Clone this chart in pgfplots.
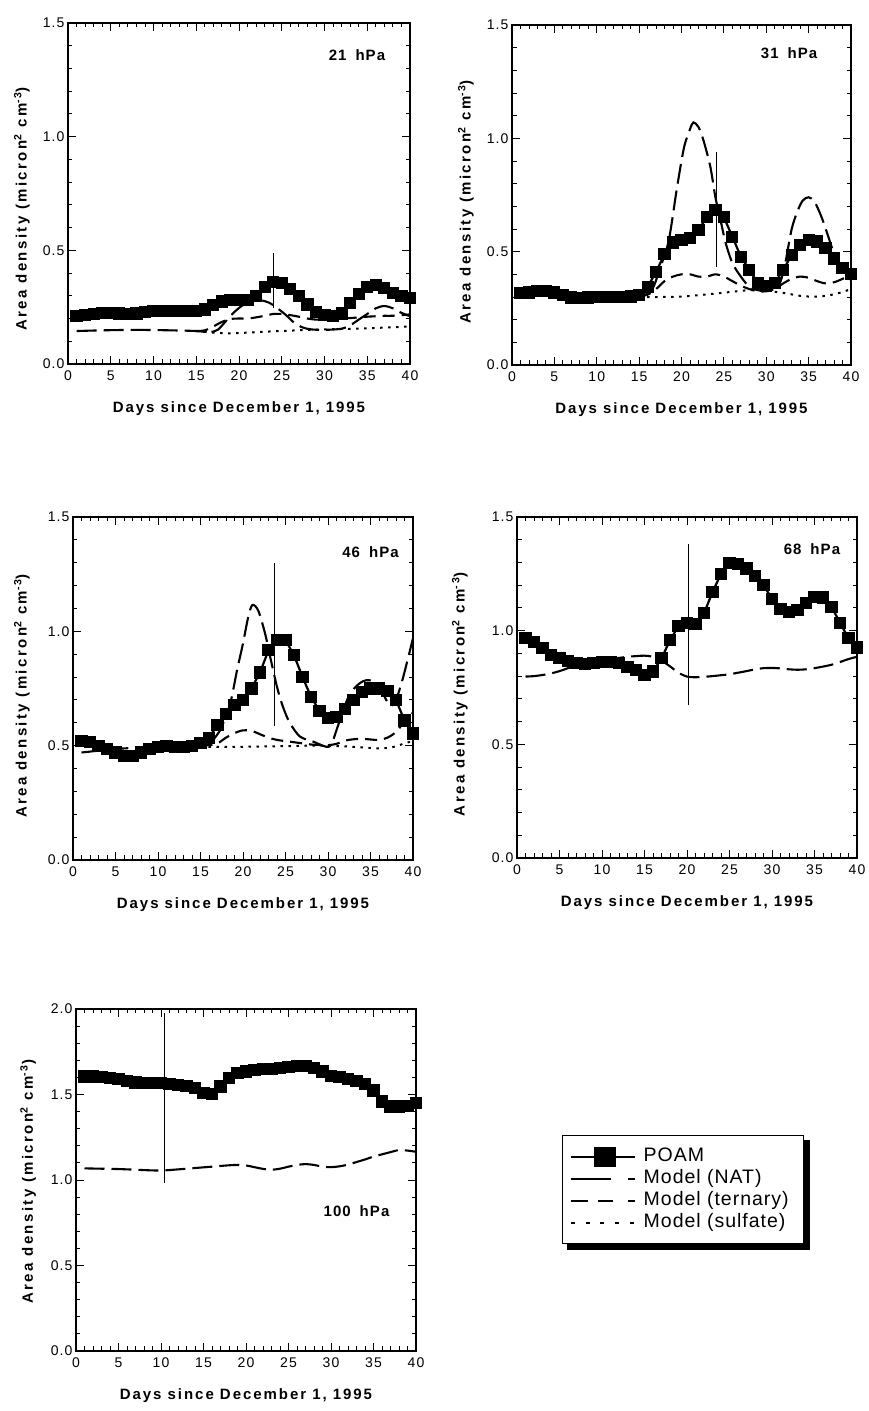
\documentclass[border=0pt]{standalone}
\usepackage{fontspec}
\setmainfont{Liberation Sans}
\newfontfamily\tickfont{Liberation Sans}[LetterSpace=8]
\newfontfamily\xlabfont{Liberation Sans}[LetterSpace=13]
\newfontfamily\ylabfont{Liberation Sans}[LetterSpace=16]
\newfontfamily\hpafont{Liberation Sans}[LetterSpace=7]
\newfontfamily\legfont{Liberation Sans}[LetterSpace=5]
\usepackage{pgfplots}
\pgfplotsset{compat=1.18}

\newcommand\xlab{\xlabfont\bfseries\fontsize{15}{15}\selectfont}
\newcommand\ylab{\ylabfont\bfseries\fontsize{15}{15}\selectfont}
\newcommand\plab{\hpafont\bfseries\fontsize{15}{15}\selectfont}

\pgfplotsset{
  panel/.style={
    scale only axis,
    xmin=0, xmax=40, ymin=0, ymax=1.5,
    xtick={0,5,...,40}, ytick={0,0.5,1.0,1.5},
    minor x tick num=4, minor y tick num=4,
    tick pos=both, xticklabel pos=lower, yticklabel pos=left,
    tick align=inside,
    major tick length=8pt, minor tick length=4.5pt,
    every tick/.style={black, line width=0.9pt},
    axis line style={line width=1.1pt},
    /pgf/number format/assume math mode=true,
    ticklabel style={font=\tickfont\fontsize{14}{14}\selectfont},
    xticklabel style={yshift=-3pt},
    yticklabel style={/pgf/number format/.cd, fixed, fixed zerofill, precision=1},
    xlabel={Days since December 1, 1995},
    ylabel={Area density (micron\textsuperscript{2} cm\textsuperscript{-3})},
    every axis x label/.style={at={(axis description cs:0.5,-0.13)}, anchor=center, font=\xlab},
  },
  ylab/.style n args={2}{every axis y label/.style={at={(axis description cs:#1,#2)}, rotate=90, anchor=center, font=\ylab}},
  poam/.style={black, line width=2.2pt, mark=square*, mark size=5pt, mark options={solid}},
  nat/.style={black, line width=2.1pt, dash pattern=on 20pt off 7pt, smooth},
  tern/.style={black, line width=2.1pt, dash pattern=on 12pt off 7pt, smooth},
  sulf/.style={black, line width=2pt, dash pattern=on 2.5pt off 5.5pt, smooth},
  vline/.style={black, line width=0.8pt, forget plot},
}

\begin{document}
\begin{tikzpicture}[x=1pt,y=1pt]
\useasboundingbox (0,0) rectangle (868,1411);

% ---------------- 21 hPa ----------------
\begin{axis}[panel, ylab={-0.135}{0.455}, at={(68pt,1047pt)}, anchor=south west, width=342pt, height=341pt]
\addplot[poam] coordinates {
(1,0.210)(2,0.215)(3,0.220)(4,0.225)(5,0.225)(6,0.222)(7,0.220)(8,0.222)(9,0.228)(10,0.232)
(11,0.232)(12,0.232)(13,0.232)(14,0.232)(15,0.232)(16,0.240)(17,0.258)(18,0.275)(19,0.280)(20,0.280)
(21,0.282)(22,0.300)(23,0.338)(24,0.360)(25,0.358)(26,0.330)(27,0.300)(28,0.262)(29,0.228)(30,0.215)
(31,0.210)(32,0.222)(33,0.268)(34,0.308)(35,0.338)(36,0.348)(37,0.335)(38,0.312)(39,0.300)(40,0.290)};
\addplot[nat] coordinates {
(1,0.145)(4,0.148)(8,0.150)(12,0.148)(15,0.145)(16.5,0.140)(17.5,0.150)(18.5,0.190)(19.5,0.230)
(20.5,0.260)(21.5,0.275)(22.5,0.280)(23.5,0.270)(24.5,0.245)(25.5,0.215)(26.5,0.180)(27.5,0.160)
(28.5,0.152)(30,0.150)(32,0.155)(33,0.170)(34,0.195)(35,0.220)(36,0.245)(37,0.255)(38,0.245)
(39,0.225)(40,0.210)};
\addplot[tern] coordinates {
(15,0.145)(16,0.148)(17,0.165)(18,0.185)(19,0.198)(20,0.200)(21,0.200)(22,0.205)(23,0.212)(24,0.220)
(25,0.220)(26,0.215)(27,0.208)(28,0.200)(29,0.195)(30,0.195)(31,0.197)(32,0.200)(33,0.202)(34,0.205)
(35,0.208)(36,0.210)(37,0.212)(38,0.212)(39,0.215)(40,0.218)};
\addplot[sulf] coordinates {
(15,0.145)(17,0.138)(19,0.135)(21,0.138)(23,0.142)(25,0.145)(28,0.150)(31,0.153)(34,0.156)(37,0.160)(40,0.165)};
\addplot[vline] coordinates {(24.0,0.245)(24.0,0.49)};
\node[font=\plab] at (axis cs:33.8,1.36) {21\hspace{9pt}hPa};
\end{axis}

% ---------------- 31 hPa ----------------
\begin{axis}[panel, ylab={-0.136}{0.48}, at={(512pt,1046pt)}, anchor=south west, width=339pt, height=340pt]
\addplot[poam] coordinates {
(1,0.316)(2,0.320)(3,0.328)(4,0.328)(5,0.320)(6,0.308)(7,0.298)(8,0.295)(9,0.298)(10,0.300)
(11,0.300)(12,0.300)(13,0.300)(14,0.302)(15,0.310)(16,0.345)(17,0.410)(18,0.490)(19,0.540)(20,0.552)
(21,0.562)(22,0.595)(23,0.652)(24,0.685)(25,0.652)(26,0.566)(27,0.478)(28,0.420)(29,0.362)(30,0.350)
(31,0.360)(32,0.420)(33,0.485)(34,0.530)(35,0.550)(36,0.545)(37,0.515)(38,0.470)(39,0.427)(40,0.400)};
\addplot[nat] coordinates {
(1,0.305)(5,0.305)(8,0.300)(12,0.300)(15,0.305)(16,0.315)(16.7,0.345)(17.5,0.430)(18.5,0.550)
(19.5,0.790)(20.3,0.960)(21,1.040)(21.4,1.070)(22,1.050)(22.6,0.990)(23.4,0.875)(24,0.740)
(24.6,0.640)(25.2,0.540)(26,0.450)(27,0.390)(28,0.345)(29,0.330)(30,0.328)(31,0.335)(31.7,0.370)
(32.3,0.460)(33,0.600)(33.7,0.680)(34.3,0.725)(35,0.740)(35.7,0.720)(36.5,0.655)(37.2,0.580)
(37.9,0.500)(38.5,0.440)(39.2,0.400)(40,0.375)};
\addplot[tern] coordinates {
(15,0.305)(16,0.310)(17,0.335)(18,0.370)(19,0.390)(20,0.400)(21,0.400)(22,0.390)(23,0.390)(24,0.400)
(25,0.390)(26,0.370)(27,0.350)(28,0.335)(29,0.325)(30,0.325)(31,0.335)(32,0.360)(33,0.380)(34,0.390)
(35,0.385)(36,0.370)(37,0.360)(38,0.365)(39,0.380)(40,0.400)};
\addplot[sulf] coordinates {
(15,0.300)(18,0.300)(20,0.302)(22,0.308)(24,0.315)(26,0.323)(28,0.330)(30,0.327)(32,0.318)(34,0.305)
(35,0.302)(36,0.302)(37,0.305)(38,0.312)(39,0.322)(40,0.335)};
\addplot[vline] coordinates {(24.1,0.434)(24.1,0.94)};
\node[font=\plab] at (axis cs:32.7,1.375) {31\hspace{9pt}hPa};
\end{axis}

% ---------------- 46 hPa ----------------
\begin{axis}[panel, ylab={-0.15}{0.478}, at={(73pt,551pt)}, anchor=south west, width=340pt, height=343pt]
\addplot[poam] coordinates {
(1,0.520)(2,0.515)(3,0.500)(4,0.485)(5,0.470)(6,0.455)(7,0.455)(8,0.470)(9,0.485)(10,0.495)
(11,0.500)(12,0.495)(13,0.495)(14,0.500)(15,0.510)(16,0.535)(17,0.590)(18,0.640)(19,0.677)(20,0.700)
(21,0.750)(22,0.820)(23,0.917)(24,0.961)(25,0.961)(26,0.896)(27,0.800)(28,0.714)(29,0.652)(30,0.622)
(31,0.625)(32,0.660)(33,0.700)(34,0.735)(35,0.750)(36,0.750)(37,0.740)(38,0.700)(39,0.610)(40,0.553)};
\addplot[nat] coordinates {
(1,0.470)(3,0.478)(5,0.485)(7,0.490)(9,0.490)(11,0.495)(13,0.495)(15,0.500)(16,0.505)(17,0.550)
(17.5,0.583)(18.5,0.685)(19.3,0.830)(20,0.947)(20.6,1.060)(21.1,1.115)(21.8,1.090)(22.6,0.990)
(23.2,0.888)(24,0.757)(24.7,0.670)(25.5,0.600)(26.7,0.540)(28.3,0.517)(29.8,0.495)(30.4,0.505)
(31,0.568)(31.8,0.655)(32.6,0.728)(33.7,0.772)(34.5,0.786)(35.4,0.780)(36.3,0.740)(37,0.690)
(37.5,0.675)(38,0.700)(38.7,0.780)(39.4,0.880)(40,0.970)};
\addplot[tern] coordinates {
(15,0.500)(16,0.502)(17,0.510)(18,0.535)(19,0.555)(20,0.567)(21,0.565)(22,0.550)(23,0.535)(24,0.525)
(25,0.520)(26,0.515)(27,0.510)(28,0.505)(29,0.503)(30,0.502)(31,0.508)(32,0.522)(33,0.528)(34,0.530)
(35,0.527)(36,0.525)(37,0.535)(38,0.560)(39,0.605)(40,0.645)};
\addplot[sulf] coordinates {
(15,0.495)(20,0.495)(25,0.498)(28,0.500)(30,0.500)(33,0.495)(35,0.490)(36,0.488)(37,0.490)(38,0.497)
(39,0.510)(40,0.520)};
\addplot[vline] coordinates {(23.7,0.585)(23.7,1.30)};
\node[font=\plab] at (axis cs:35,1.345) {46\hspace{9pt}hPa};
\end{axis}

% ---------------- 68 hPa ----------------
\begin{axis}[panel, ylab={-0.168}{0.48}, at={(517pt,553pt)}, anchor=south west, width=340pt, height=341pt]
\addplot[poam] coordinates {
(1,0.969)(2,0.951)(3,0.922)(4,0.893)(5,0.878)(6,0.868)(7,0.856)(8,0.853)(9,0.856)(10,0.862)
(11,0.862)(12,0.856)(13,0.840)(14,0.827)(15,0.805)(16,0.820)(17,0.878)(18,0.958)(19,1.020)(20,1.035)
(21,1.030)(22,1.076)(23,1.170)(24,1.250)(25,1.298)(26,1.292)(27,1.273)(28,1.240)(29,1.200)(30,1.140)
(31,1.097)(32,1.083)(33,1.090)(34,1.120)(35,1.149)(36,1.146)(37,1.105)(38,1.035)(39,0.966)(40,0.926)};
\addplot[nat] coordinates {
(1,0.798)(2,0.800)(3,0.805)(4,0.812)(5,0.822)(6,0.835)(7,0.848)(8,0.858)(9,0.865)(10,0.870)
(11,0.875)(12,0.880)(13,0.885)(14,0.888)(15,0.890)(16,0.885)(17,0.868)(18,0.843)(19,0.815)(20,0.798)
(21,0.795)(22,0.797)(23,0.800)(24,0.804)(25,0.808)(26,0.815)(27,0.822)(28,0.830)(29,0.835)(30,0.836)
(31,0.834)(32,0.830)(33,0.828)(34,0.830)(35,0.835)(36,0.842)(37,0.850)(38,0.862)(39,0.875)(40,0.885)};
\addplot[vline] coordinates {(20.15,0.675)(20.15,1.38)};
\node[font=\plab] at (axis cs:34.7,1.36) {68\hspace{9pt}hPa};
\end{axis}

% ---------------- 100 hPa ----------------
\begin{axis}[panel, ylab={-0.141}{0.495}, at={(76pt,60pt)}, anchor=south west, width=340pt, height=342pt,
  ymax=2.0, ytick={0,0.5,1.0,1.5,2.0},
  legend cell align=left,
  legend style={name=leg, at={(axis description cs:1.4294,0.6316)}, anchor=north west,
    draw=black, line width=1.5pt, fill=white,
    font=\legfont\fontsize{19.5}{19.5}\selectfont,
    inner xsep=7pt, inner ysep=10pt, row sep=0pt,
    nodes={inner xsep=8pt, inner ysep=1pt, text height=15pt, text depth=5pt}}]
\addplot[poam, legend image code/.code={
  \draw[line width=2pt, solid] (0pt,0pt) -- (64pt,0pt);
  \fill (24pt,-9pt) rectangle (44pt,9pt);}] coordinates {
(1,1.605)(2,1.605)(3,1.600)(4,1.595)(5,1.590)(6,1.580)(7,1.570)(8,1.565)(9,1.565)(10,1.565)
(11,1.560)(12,1.555)(13,1.550)(14,1.537)(15,1.508)(16,1.505)(17,1.547)(18,1.596)(19,1.625)(20,1.635)
(21,1.645)(22,1.650)(23,1.650)(24,1.655)(25,1.660)(26,1.665)(27,1.665)(28,1.655)(29,1.635)(30,1.610)
(31,1.600)(32,1.590)(33,1.580)(34,1.562)(35,1.523)(36,1.459)(37,1.430)(38,1.430)(39,1.435)(40,1.449)};
\addlegendentry{POAM}
\addplot[nat, legend image code/.code={
  \draw[line width=2pt, dash pattern=on 40pt off 17pt on 7pt off 60pt] (0pt,0pt) -- (64pt,0pt);}] coordinates {
(1,1.068)(3,1.066)(5,1.064)(7,1.060)(9,1.056)(10,1.055)(12,1.062)(14,1.070)(16,1.078)(18,1.086)
(19,1.088)(20,1.085)(21,1.075)(22,1.065)(23,1.060)(24,1.066)(25,1.078)(26,1.088)(27,1.093)(28,1.088)
(29,1.078)(30,1.075)(31,1.080)(32,1.090)(33,1.105)(34,1.120)(35,1.137)(36,1.150)(37,1.163)(38,1.175)
(39,1.172)(40,1.165)};
\addlegendentry{Model (NAT)}
\addplot[vline] coordinates {(10.4,0.985)(10.4,1.975)};
\addlegendimage{legend image code/.code={
  \draw[line width=2pt, dash pattern=on 17pt off 10pt on 15pt off 15pt on 7pt off 60pt] (0pt,0pt) -- (64pt,0pt);}}
\addlegendentry{Model (ternary)}
\addlegendimage{legend image code/.code={
  \draw[line width=2pt, dash pattern=on 4pt off 10.8pt] (0pt,0pt) -- (64pt,0pt);}}
\addlegendentry{Model (sulfate)}
\node[font=\plab] at (axis cs:33,0.815) {100\hspace{9pt}hPa};
\end{axis}
% drop shadow along the right and bottom edges of the key box
\fill[black] ([yshift=-5pt]leg.north east) rectangle ([xshift=5.75pt,yshift=-5.75pt]leg.south east);
\fill[black] ([xshift=5pt]leg.south west) rectangle ([xshift=5.75pt,yshift=-5.75pt]leg.south east);
\end{tikzpicture}
\end{document}
